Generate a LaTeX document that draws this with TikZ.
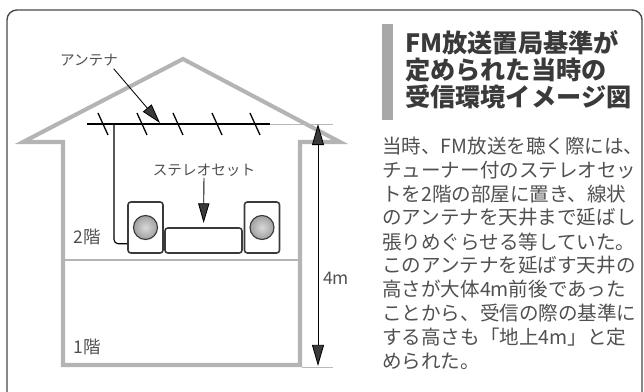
\documentclass[tikz,border=0pt]{standalone}
\usepackage{fontspec}
\usepackage{xcolor}
\newfontfamily\jp{Noto Sans CJK JP}
\XeTeXlinebreaklocale "ja"
\XeTeXlinebreakskip=0pt plus 4pt
\usetikzlibrary{arrows.meta,positioning}

\definecolor{wallgray}{HTML}{B4B4B4}
\definecolor{inkgray}{HTML}{3A3A3A}
\definecolor{txtgray}{HTML}{505050}
\definecolor{bargray}{HTML}{A8A8A8}
\definecolor{framegray}{HTML}{484848}

\begin{document}
\begin{tikzpicture}[
    x=0.025cm, y=-0.025cm,
    font=\jp,
    frame/.style={draw=framegray, line width=1pt, rounded corners=7pt},
    wall/.style={draw=wallgray, line width=2.9pt, line join=miter},
    floorline/.style={draw=wallgray, line width=1.5pt},
    extline/.style={draw=gray!55, line width=0.5pt},
    antenna/.style={draw=black, line width=0.9pt},
    wire/.style={draw=black, line width=0.8pt, rounded corners=3pt},
    callout/.style={draw=black, line width=0.6pt, -{Triangle[length=14pt,width=8pt,fill=inkgray]}},
    dimline/.style={draw=black, line width=0.6pt, {Triangle[length=15pt,width=8.5pt,fill=inkgray]}-{Triangle[length=15pt,width=8.5pt,fill=inkgray]}},
    spkbox/.style={rectangle, draw=inkgray, line width=1.1pt, rounded corners=2pt, fill=white, minimum width=0.875cm, minimum height=1.275cm, inner sep=0pt},
    ampbox/.style={rectangle, draw=inkgray, line width=1.1pt, rounded corners=2pt, fill=white, minimum width=1.925cm, minimum height=0.625cm, inner sep=0pt},
    cone/.style={circle, draw=inkgray, line width=0.8pt, inner color=gray!30, outer color=gray!75, minimum size=0.6cm, inner sep=0pt},
    tag/.style={text=txtgray, inner sep=1pt, font=\jp\fontsize{10.4pt}{12pt}\selectfont},
    floortag/.style={text=txtgray, inner sep=0pt, font=\jp\fontsize{12.4pt}{14pt}\selectfont},
    headline/.style={anchor=west, inner sep=0pt, text=inkgray, font=\jp\bfseries\fontsize{17.9pt}{21pt}\selectfont},
    bodyline/.style={anchor=west, inner sep=0pt, text=txtgray, font=\jp\fontsize{13.9pt}{17pt}\selectfont}
]
\useasboundingbox (0,0) rectangle (644,392);

% outer frame, open at the bottom
\begin{scope}
  \clip (0,0) rectangle (644,392);
  \draw[frame] (7,10) rectangle (642,430);
\end{scope}

% house outline
\draw[wall] (63,142) -- (23,142) -- (183,59) -- (340,142) -- (300,142) -- (300,365) -- (63,365) -- cycle;
\draw[floorline] (63,260) -- (300,260);

% antenna wire under the roof
\draw[antenna] (87,124) -- (270,124);
\foreach \x in {103,142,178,217,255}
  \draw[antenna] (\x-5,113) -- (\x+5,135);
\coordinate (antfeed) at (160,123);
\coordinate (wiretop) at (114,124);

% stereo set
\node[spkbox] (spkL) at (145.5,227.5) {};
\node[spkbox] (spkR) at (262,227.5) {};
\node[ampbox] (amp) at (203.5,240.5) {};
\node[cone] (coneL) at (spkL) {};
\node[cone] (coneR) at (spkR) {};
\draw[wire] (wiretop) |- ([yshift=0.25cm]spkL.south west);

% labels
\node[tag] (antlabel) at (89,60) {アンテナ};
\node[tag] (stlabel) at (204,170) {ステレオセット};
\node[floortag] (upper) at (87,237) {2階};
\node[floortag] (lower) at (87,347) {1階};

\draw[callout] (antlabel.south east) ++(-6,1) -- (antfeed);
\draw[callout, shorten >=3pt] (stlabel) -- (amp);

% height dimension
\draw[extline] (270,124) -- (333,124);
\draw[extline] (302,367) -- (333,367);
\coordinate (dimtop) at (318,124);
\coordinate (dimbot) at (318,366);
\draw[dimline] (dimtop) -- (dimbot);
\node[floortag] (height) at (336,278) {4m};

% heading
\fill[bargray] (382,24) rectangle (393,120);
\node[headline] (head1) at (405,43) {FM放送置局基準が};
\node[headline] (head2) at (405,70) {定められた当時の};
\node[headline] (head3) at (405,97) {受信環境イメージ図};

% body text
\foreach \ln [count=\i] in {当時、FM放送を聴く際には、,
    チューナー付のステレオセッ,
    トを2階の部屋に置き、線状,
    のアンテナを天井まで延ばし,
    張りめぐらせる等していた。,
    このアンテナを延ばす天井の,
    高さが大体4m前後であった,
    ことから、受信の際の基準に,
    する高さも「地上4m」と定}
  \node[bodyline] (body\i) at (382,146+23.9*\i-23.9) {\makebox[6.375cm][s]{\ln}};
\node[bodyline] (body10) at (382,361) {められた。};

\end{tikzpicture}
\end{document}
